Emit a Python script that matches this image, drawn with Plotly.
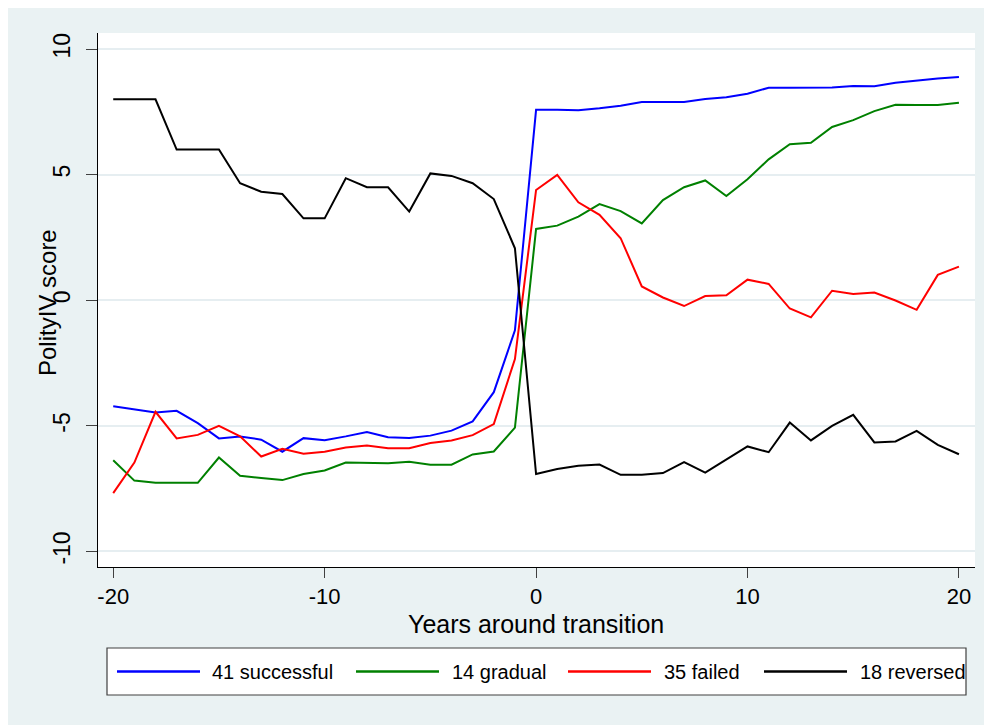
import plotly.graph_objects as go

years = list(range(-20, 21))

successful = [-4.22, -4.34, -4.47, -4.40, -4.89, -5.50, -5.42, -5.55, -6.03, -5.49,
              -5.57, -5.42, -5.25, -5.45, -5.48, -5.39, -5.19, -4.82, -3.66, -1.20,
              7.58, 7.58, 7.56, 7.64, 7.74, 7.89, 7.90, 7.89, 8.01, 8.08,
              8.22, 8.46, 8.46, 8.46, 8.47, 8.53, 8.52, 8.66, 8.75, 8.83, 8.89]

gradual = [-6.37, -7.18, -7.27, -7.27, -7.27, -6.26, -6.99, -7.08, -7.16, -6.92,
           -6.78, -6.46, -6.46, -6.49, -6.43, -6.55, -6.55, -6.14, -6.02, -5.07,
           2.84, 2.97, 3.33, 3.83, 3.55, 3.06, 3.99, 4.50, 4.77, 4.15,
           4.82, 5.61, 6.21, 6.27, 6.90, 7.17, 7.53, 7.78, 7.77, 7.77, 7.86]

failed = [-7.68, -6.46, -4.44, -5.50, -5.36, -5.00, -5.42, -6.22, -5.91, -6.11,
          -6.03, -5.86, -5.78, -5.89, -5.89, -5.68, -5.58, -5.37, -4.93, -2.34,
          4.39, 4.99, 3.90, 3.40, 2.47, 0.55, 0.11, -0.23, 0.17, 0.20,
          0.82, 0.65, -0.33, -0.68, 0.38, 0.25, 0.31, -0.01, -0.38, 1.01, 1.34]

reversed_ = [8.0, 8.0, 8.0, 6.0, 6.0, 6.0, 4.66, 4.32, 4.23, 3.26,
             3.26, 4.86, 4.50, 4.50, 3.53, 5.05, 4.95, 4.66, 4.03, 2.07,
             -6.92, -6.72, -6.59, -6.54, -6.95, -6.95, -6.88, -6.44, -6.86, -6.33,
             -5.82, -6.05, -4.87, -5.58, -5.00, -4.56, -5.66, -5.62, -5.20, -5.76, -6.13]

series_names = ["41 successful", "14 gradual", "35 failed", "18 reversed"]
series_values = [successful, gradual, failed, reversed_]
series_colors = ["#0000FF", "#008000", "#FF0000", "#000000"]

x_ticks = [-20, -10, 0, 10, 20]
y_ticks = [-10, -5, 0, 5, 10]

W, H = 992, 725
OFF = 8  # page body margin
ML, MR, MT, MB = 90, 25, 25, 166
PW, PH = W - ML - MR, H - MT - MB

def px(sx):
    return (sx - OFF - ML) / PW

def py(sy):
    return (H - MB - (sy - OFF)) / PH

FONT = "Liberation Sans, Arial, sans-serif"
BG = "#EAF2F3"

fig = go.Figure()
for name, vals, col in zip(series_names, series_values, series_colors):
    fig.add_trace(go.Scatter(x=years, y=vals, mode="lines", name=name,
                             line=dict(color=col, width=2), showlegend=False))

shapes = [
    dict(type="rect", xref="paper", yref="paper", x0=px(107), x1=px(966), y0=py(695), y1=py(648),
         fillcolor="white", line=dict(color="#404040", width=1.2)),
]
annotations = []
leg_line_x = [(117, 200), (356, 439), (568, 651), (764, 847)]
leg_text_x = [210, 450, 662, 858]
leg_y = 671.5
for (a, b), tx, name, col in zip(leg_line_x, leg_text_x, series_names, series_colors):
    shapes.append(dict(type="line", xref="paper", yref="paper", x0=px(a), x1=px(b),
                       y0=py(leg_y), y1=py(leg_y), line=dict(color=col, width=2.5)))
    annotations.append(dict(xref="paper", yref="paper", x=px(tx), y=py(leg_y), text=name,
                            showarrow=False, xanchor="left", yanchor="middle",
                            font=dict(family=FONT, size=20, color="black")))

annotations.append(dict(xref="paper", yref="paper", x=px(536), y=py(624),
                        text="Years around transition", showarrow=False,
                        xanchor="center", yanchor="middle",
                        font=dict(family=FONT, size=25, color="black")))
annotations.append(dict(xref="paper", yref="paper", x=px(47), y=py(303),
                        text="PolityIV score", showarrow=False, textangle=-90,
                        xanchor="center", yanchor="middle",
                        font=dict(family=FONT, size=24, color="black")))

fig.update_layout(
    width=W, height=H,
    margin=dict(l=ML, r=MR, t=MT, b=MB, autoexpand=False),
    paper_bgcolor=BG, plot_bgcolor="white",
    showlegend=False,
    shapes=shapes, annotations=annotations,
    font=dict(family=FONT, size=20, color="black"),
)
fig.update_xaxes(range=[-20.72, 20.76], tickvals=x_ticks, ticktext=[str(v) for v in x_ticks],
                 showgrid=False, zeroline=False, showline=True, linecolor="black", linewidth=1,
                 ticks="outside", ticklen=10, tickcolor="#404040", tickwidth=1,
                 ticklabelstandoff=0,
                 tickfont=dict(family=FONT, size=22, color="black"))
fig.update_yaxes(range=[-10.62, 10.64], tickvals=y_ticks, ticktext=[str(v) for v in y_ticks],
                 showgrid=True, gridcolor="#E6EEF1", gridwidth=1.5, zeroline=False,
                 showline=True, linecolor="black", linewidth=1,
                 ticks="outside", ticklen=11, tickcolor="#404040", tickwidth=1,
                 tickangle=-90, ticklabelstandoff=7,
                 tickfont=dict(family=FONT, size=23, color="black"))

fig.write_html("out.html")
